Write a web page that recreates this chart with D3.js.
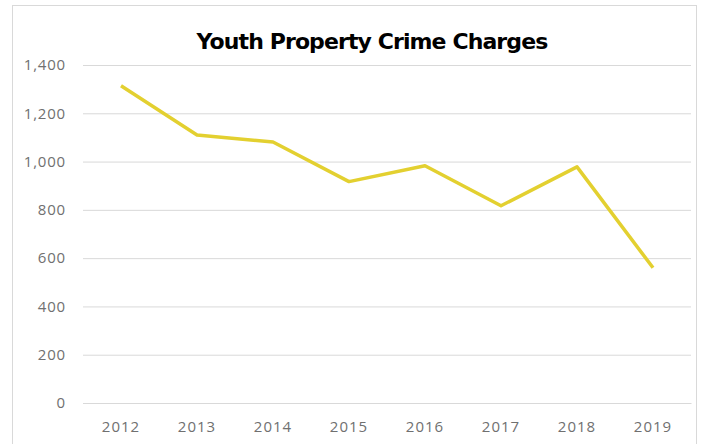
<!DOCTYPE html>
<html><head><meta charset="utf-8">
<script src="https://cdn.jsdelivr.net/npm/d3@7"></script>
<style>body{margin:0;background:#fff}svg{display:block}</style>
</head><body>
<script>
const years = ["2012","2013","2014","2015","2016","2017","2018","2019"];
const charges = [1314, 1110, 1081, 917, 983, 817, 978, 560];
const yTicks = [0, 200, 400, 600, 800, 1000, 1200, 1400];
const title = "Youth Property Crime Charges";

const W = 702, H = 444;
const svg = d3.select("body").append("svg").attr("width", W).attr("height", H);
svg.append("rect").attr("x", 12.5).attr("y", 5.5).attr("width", 684).attr("height", 450)
  .attr("fill", "#fff").attr("stroke", "#d9d9d9");

const x = d3.scaleBand().domain(years).range([83, 691]);
const y = d3.scaleLinear().domain([0, 1400]).range([403, 65]);

const labelFont = "15px 'Open Sans', sans-serif";
const labelColor = "#707070";
const yAxis = svg.append("g").attr("transform", "translate(83,0)")
  .call(d3.axisLeft(y).tickValues(yTicks).tickSize(-608).tickPadding(17).tickFormat(d3.format(",")));
yAxis.select(".domain").remove();
yAxis.selectAll(".tick line").attr("stroke", "#d9d9d9");
yAxis.selectAll(".tick text").attr("fill", labelColor).style("font", labelFont).style("letter-spacing", "0.8px");

const xAxis = svg.append("g").attr("transform", "translate(0,403)")
  .call(d3.axisBottom(x).tickSize(0).tickPadding(18));
xAxis.select(".domain").attr("stroke", "#d9d9d9");
xAxis.selectAll(".tick text").attr("fill", labelColor).style("font", labelFont).style("letter-spacing", "1px");

const line = d3.line().x((d, i) => x(years[i]) + x.bandwidth() / 2).y(d => y(d));
svg.append("path").datum(charges).attr("d", line).attr("fill", "none")
  .attr("stroke", "#e3d030").attr("stroke-width", 3.5).attr("stroke-linejoin", "round");

svg.append("text").attr("x", 372).attr("y", 49).attr("text-anchor", "middle")
  .style("font", "bold 22px 'DejaVu Sans', sans-serif").style("letter-spacing", "-0.9px")
  .attr("fill", "#000").text(title);
</script>
</body></html>
